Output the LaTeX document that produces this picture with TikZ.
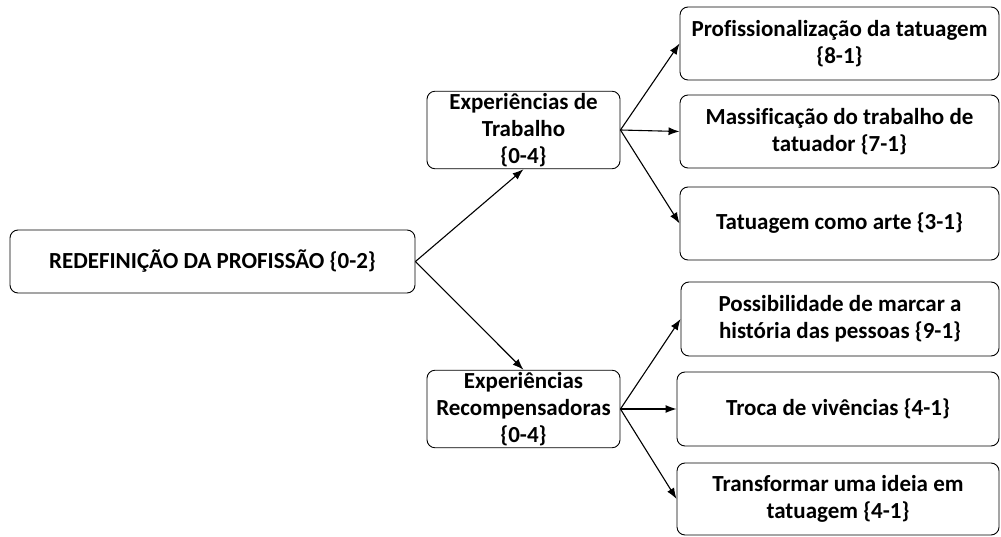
\documentclass[tikz,border=0pt]{standalone}
\usepackage{fontspec}
\setmainfont[Ligatures=NoCommon]{Carlito}
\usetikzlibrary{arrows.meta,positioning}
\tikzset{
	category/.style={draw, rounded corners=8pt, line width=0.9pt, font=\bfseries\fontsize{23}{27}\selectfont, fill=white, align=center, inner sep=2pt},
	link/.style={line width=1.1pt, -{Latex[length=11pt,width=8pt]}}
}
\newcommand{\connectcategories}[2]{
	\draw[link] (#1) -- (#2);
}

\begin{document}
\begin{tikzpicture}[x=1pt,y=1pt]
			\useasboundingbox (0,0) rectangle (1001,536);
			
			% Root category is drawn
			\node[category, minimum width=405pt, minimum height=63pt] (redefinicao) at (212.5,274.5) {REDEFINIÇÃO DA PROFISSÃO \{0-2\}};
			
			% Sub-categories are drawn
			\node[category, minimum width=193pt, minimum height=74pt] (trabalho) at (523.5,406) {Experiências de\\Trabalho\\\{0-4\}};
			\node[category, minimum width=193pt, minimum height=74pt] (recompensa) at (523.5,127) {Experiências\\Recompensadoras\\\{0-4\}};
			
			% Codes of Trabalho are drawn
			\node[category, minimum width=319pt, minimum height=73pt] (trabalho-1) at (839.5,492.5) {Profissionalização da tatuagem\\\{8-1\}};
			\node[category, minimum width=319pt, minimum height=73pt] (trabalho-2) at (839.5,404.5) {Massificação do trabalho de\\tatuador \{7-1\}};
			\node[category, minimum width=319pt, minimum height=73pt] (trabalho-3) at (839.5,312.5) {Tatuagem como arte \{3-1\}};
			
			% Codes of Recompensadoras are drawn
			\node[category, minimum width=318pt, minimum height=74pt] (recompensa-1) at (840,217) {Possibilidade de marcar a\\história das pessoas \{9-1\}};
			\node[category, minimum width=322pt, minimum height=74pt] (recompensa-2) at (838,127) {Troca de vivências \{4-1\}};
			\node[category, minimum width=322pt, minimum height=72pt] (recompensa-3) at (838,37) {Transformar uma ideia em\\tatuagem \{4-1\}};
			
			\connectcategories{redefinicao.east}{trabalho.south};
			\connectcategories{redefinicao.east}{recompensa.north};
			
			\connectcategories{trabalho.east}{trabalho-1.west};
			\connectcategories{trabalho.east}{trabalho-2.west};
			\connectcategories{trabalho.east}{trabalho-3.west};
			
			\connectcategories{recompensa.east}{recompensa-1.west};
			\connectcategories{recompensa.east}{recompensa-2.west};
			\connectcategories{recompensa.east}{recompensa-3.west};
			
\end{tikzpicture}
\end{document}
